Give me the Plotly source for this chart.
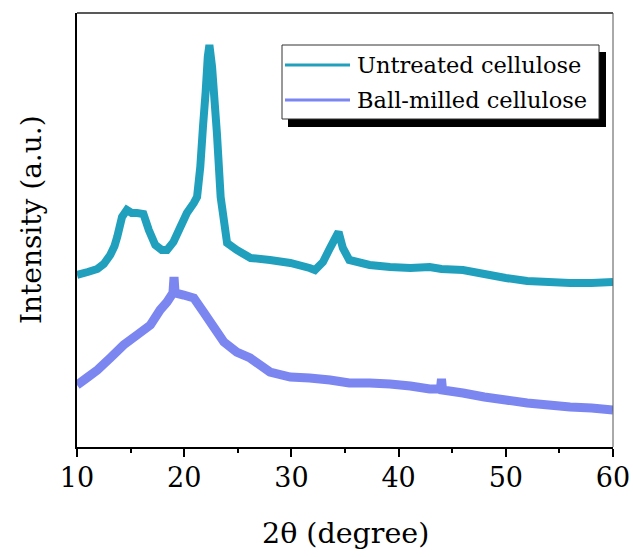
import plotly.graph_objects as go

# XRD patterns, intensity in arbitrary units (offset stacked)
untreated_x = [10, 11, 11.9, 12.5, 13.1, 13.5, 13.75, 14.2, 14.65, 15.1, 15.6, 16.2, 16.7,
               17.3, 17.9, 18.4, 19.0, 19.6, 20.25, 20.9, 21.2, 21.5, 21.75, 22.0, 22.2,
               22.35, 22.6, 23.05, 23.4, 24.0, 24.9, 26.2, 28.0, 29.9, 31.7, 32.2, 32.95,
               33.6, 34.1, 34.4, 34.8, 35.4, 37.3, 39.2, 41.1, 42.9, 44, 46, 48, 50, 52,
               54, 56, 58, 60]
untreated_y = [172, 175, 178, 183, 192, 201, 210, 230, 237, 234, 234, 233, 217,
               202, 197, 197, 205, 219, 234, 244, 250, 280, 320, 355, 390,
               402, 380, 314, 250, 204, 197, 189, 187, 184, 179, 177, 185,
               199, 209, 215, 199, 187, 182, 180, 179, 180, 178, 177, 173, 169, 166,
               165, 164, 164, 165]

milled_x = [10, 10.9, 11.9, 13.1, 14.35, 15.6, 16.85, 17.75, 18.4, 18.95, 19.05, 19.15,
            19.95, 20.9, 21.8, 22.75, 23.7, 24.9, 26.15, 28.0, 29.9, 31.7, 33.6, 35.4,
            37.3, 39.2, 41.1, 42.9, 43.9, 44.0, 44.1, 46, 48, 50, 52, 54, 56, 58, 60]
milled_y = [62, 69, 77, 89, 102, 112, 122, 137, 145, 154, 170, 154,
            152, 149, 135, 120, 105, 95, 89, 75, 70, 69, 67, 64,
            64, 63, 61, 58, 58, 68, 57, 54, 50, 47, 44, 42, 40, 39, 37]

series_names = ["Untreated cellulose", "Ball-milled cellulose"]
series_colors = ["#21A0BE", "#7B86F0"]
x_ticks = [10, 20, 30, 40, 50, 60]

FONT = "DejaVu Serif"

fig = go.Figure()
fig.add_trace(go.Scatter(x=untreated_x, y=untreated_y, mode="lines",
                         line=dict(color=series_colors[0], width=8, simplify=False),
                         name=series_names[0], showlegend=False))
fig.add_trace(go.Scatter(x=milled_x, y=milled_y, mode="lines",
                         line=dict(color=series_colors[1], width=9, simplify=False),
                         name=series_names[1], showlegend=False))

fig.update_layout(
    width=633, height=557,
    margin=dict(l=77, r=20, t=13, b=110, autoexpand=False),
    paper_bgcolor="white", plot_bgcolor="white",
    font=dict(family=FONT, color="black"),
    xaxis=dict(range=[10, 60], tickvals=x_ticks, ticktext=[str(v) for v in x_ticks],
               ticks="outside", ticklen=8, tickwidth=2, tickcolor="black",
               minor=dict(dtick=5, ticks="outside", ticklen=4, tickwidth=2, tickcolor="black"),
               showline=True, linewidth=2, linecolor="black", showgrid=False,
               zeroline=False, automargin=False, ticklabelstandoff=-2,
               tickfont=dict(size=27, family=FONT, color="black")),
    yaxis=dict(range=[0, 434], showticklabels=False, ticks="", showline=True,
               linewidth=2, linecolor="black", showgrid=False, zeroline=False,
               automargin=False),
)

# frame: top and right borders
fig.add_shape(type="line", xref="paper", yref="paper", x0=0, x1=1, y0=1, y1=1,
              line=dict(color="#222", width=1.5))
fig.add_shape(type="line", xref="paper", yref="paper", x0=1, x1=1, y0=0, y1=1,
              line=dict(color="#555", width=1))

# legend box with drop shadow
def px(xp):
    return (xp - 77) / 536

def py(yp):
    return (447 - yp) / 434

fig.add_shape(type="rect", xref="paper", yref="paper",
              x0=px(288), x1=px(606), y0=py(127), y1=py(52),
              fillcolor="black", line=dict(width=0), layer="above")
fig.add_shape(type="rect", xref="paper", yref="paper",
              x0=px(282), x1=px(599), y0=py(119), y1=py(45),
              fillcolor="white", line=dict(color="#333", width=1), layer="above")
for i, (name, color) in enumerate(zip(series_names, series_colors)):
    yc = 65 + 35 * i
    fig.add_shape(type="line", xref="paper", yref="paper",
                  x0=px(285), x1=px(350), y0=py(yc), y1=py(yc),
                  line=dict(color=color, width=3), layer="above")
    fig.add_annotation(xref="paper", yref="paper", x=px(355), y=py(yc),
                       text=name, showarrow=False, xanchor="left", yanchor="middle",
                       font=dict(size=22.5, family=FONT, color="black"))

# axis titles
fig.add_annotation(xref="paper", yref="paper", x=0.5, y=py(533),
                   text="2θ (degree)", showarrow=False, xanchor="center", yanchor="middle",
                   font=dict(size=28.5, family=FONT, color="black"))
fig.add_annotation(xref="paper", yref="paper", x=px(31), y=py(220),
                   text="Intensity (a.u.)", showarrow=False, textangle=-90,
                   xanchor="center", yanchor="middle",
                   font=dict(size=28, family=FONT, color="black"))

fig.write_html("out.html")
